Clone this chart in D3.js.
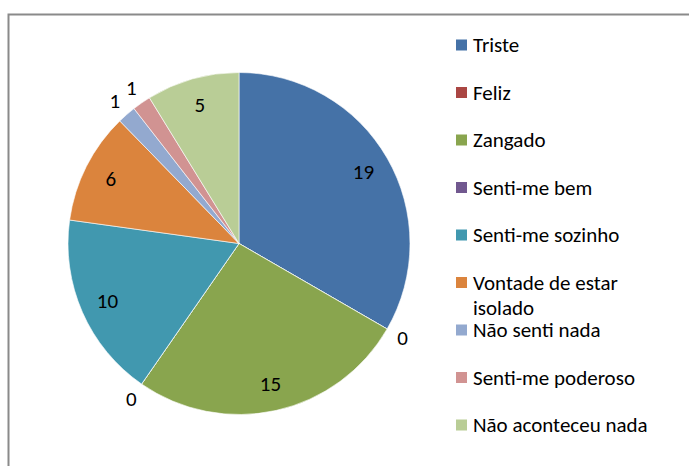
<!DOCTYPE html>
<html>
<head>
<meta charset="utf-8">
<script src="https://cdn.jsdelivr.net/npm/d3@7"></script>
<style>
  html, body { margin: 0; padding: 0; background: #fff; }
  svg { display: block; }
  text { font-family: Calibri, Carlito, "Open Sans", sans-serif; fill: #000; }
</style>
</head>
<body>
<svg id="chart" width="689" height="466"></svg>
<script>
const categories = ["Triste", "Feliz", "Zangado", "Senti-me bem", "Senti-me sozinho",
  "Vontade de estar isolado", "Não senti nada", "Senti-me poderoso", "Não aconteceu nada"];
const values = [19, 0, 15, 0, 10, 6, 1, 1, 5];
const colors = ["#4572A7", "#AA4643", "#89A54E", "#71588F", "#4198AF",
  "#DB843D", "#93A9CF", "#D19392", "#B9CD96"];
const legendLines = [["Triste"], ["Feliz"], ["Zangado"], ["Senti-me bem"], ["Senti-me sozinho"],
  ["Vontade de estar", "isolado"], ["Não senti nada"], ["Senti-me poderoso"], ["Não aconteceu nada"]];

const svg = d3.select("#chart");

// chart frame (right and bottom edges extend beyond the picture)
svg.append("rect")
  .attr("x", 8.5).attr("y", 14.5)
  .attr("width", 720).attr("height", 480)
  .attr("fill", "none").attr("stroke", "#8a8a8a").attr("stroke-width", 2);

const cx = 239, cy = 243.5, r = 171;
const g = svg.append("g").attr("transform", `translate(${cx},${cy})`);

const data = categories.map((c, i) => ({ name: c, value: values[i], color: colors[i] }));
const pie = d3.pie().value(d => d.value).sort(null);
const arcs = pie(data);
const arc = d3.arc().innerRadius(0).outerRadius(r);

g.selectAll("path.slice").data(arcs).enter().append("path")
  .attr("class", "slice")
  .attr("d", arc)
  .attr("fill", d => d.data.color)
  .attr("stroke", "#fff").attr("stroke-width", 0.6);

const fontSize = 21;
const inArc = d3.arc().innerRadius(r * 0.84).outerRadius(r * 0.84);
const outArc = d3.arc().innerRadius(r + 18).outerRadius(r + 18);

g.selectAll("text.lbl").data(arcs).enter().append("text")
  .attr("class", "lbl")
  .attr("transform", d => {
    const small = (d.endAngle - d.startAngle) < 0.2;
    const c = (small ? outArc : inArc).centroid(d);
    return `translate(${c[0]},${c[1]})`;
  })
  .attr("text-anchor", "middle")
  .attr("dominant-baseline", "central")
  .style("font-size", fontSize + "px")
  .text(d => d.data.value);

// legend
const legend = svg.append("g");
const ly = d3.scaleLinear().domain([0, categories.length - 1]).range([45, 425]);
const items = legend.selectAll("g.item").data(data).enter().append("g")
  .attr("class", "item")
  .attr("transform", (d, i) => `translate(456,${ly(i)})`);
items.append("rect")
  .attr("x", 0).attr("y", -5.5).attr("width", 11).attr("height", 11)
  .attr("fill", d => d.color);
items.each(function(d, i) {
  const t = d3.select(this).append("text")
    .attr("x", 17).attr("y", 0)
    .attr("dominant-baseline", "central")
    .style("font-size", fontSize + "px");
  legendLines[i].forEach((line, k) => {
    t.append("tspan").attr("x", 17).attr("dy", k === 0 ? 0 : 25).text(line);
  });
});
</script>
</body>
</html>
